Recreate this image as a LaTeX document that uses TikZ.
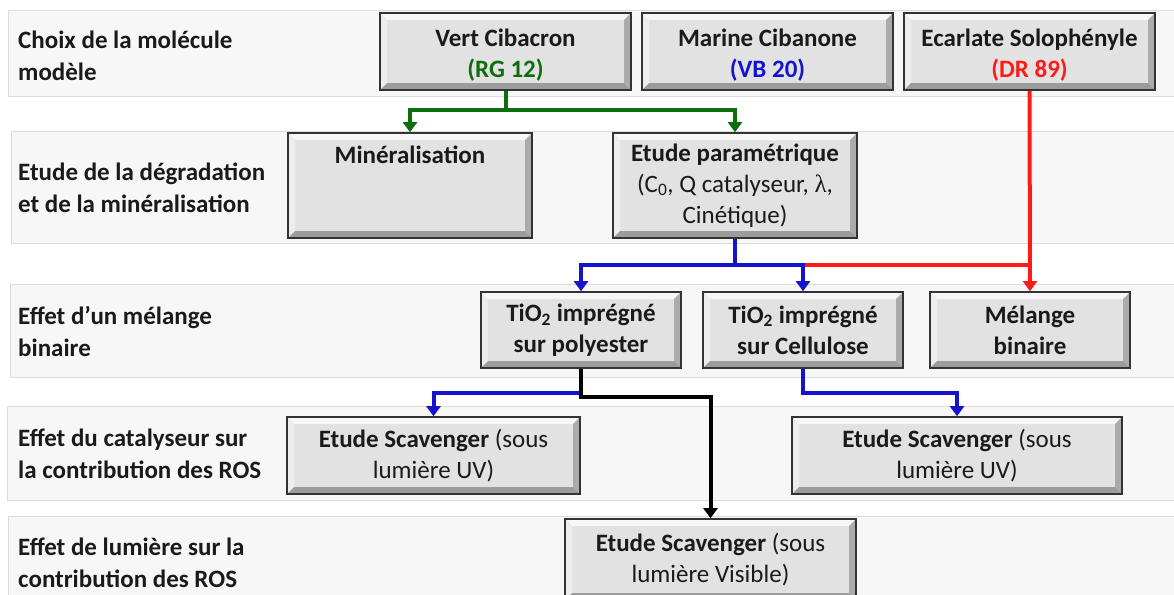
\documentclass[tikz,border=0pt]{standalone}
\usepackage{fontspec}
\setmainfont{Carlito}
\newfontfamily\grkfont{Liberation Serif}
\usetikzlibrary{arrows.meta}
\definecolor{bandfill}{HTML}{F7F7F7}
\definecolor{bandline}{HTML}{DCDCDC}
\definecolor{boxfill}{HTML}{E2E2E2}
\definecolor{boxline}{HTML}{333333}
\definecolor{txt}{HTML}{1A1A1A}
\definecolor{cgreen}{HTML}{0E6E0E}
\definecolor{cblue}{HTML}{1414CC}
\definecolor{cred}{HTML}{FF1A1A}
\definecolor{bvtop}{HTML}{F7F7F7}
\definecolor{bvleft}{HTML}{EDEDED}
\definecolor{bvright}{HTML}{ABABAB}
\definecolor{bvbot}{HTML}{9C9C9C}
\tikzset{
  band/.style={fill=bandfill, draw=bandline, line width=0.8pt},
  lbl/.style={anchor=west, align=left, text=txt, inner sep=0pt,
    font=\fontsize{25}{32}\selectfont\bfseries},
  bevel/.style={path picture={
    \path (path picture bounding box.north west) coordinate (pnw)
          (path picture bounding box.north east) coordinate (pne)
          (path picture bounding box.south west) coordinate (psw)
          (path picture bounding box.south east) coordinate (pse);
    \fill[bvtop] (pnw) -- (pne) -- ([shift={(-7pt,-7pt)}]pne) -- ([shift={(7pt,-7pt)}]pnw) -- cycle;
    \fill[bvleft] (pnw) -- ([shift={(7pt,-7pt)}]pnw) -- ([shift={(7pt,7pt)}]psw) -- (psw) -- cycle;
    \fill[bvright] (pne) -- ([shift={(-7pt,-7pt)}]pne) -- ([shift={(-7pt,7pt)}]pse) -- (pse) -- cycle;
    \fill[bvbot] (psw) -- ([shift={(7pt,7pt)}]psw) -- ([shift={(-7pt,7pt)}]pse) -- (pse) -- cycle;
  }},
  box/.style={draw=boxline, line width=1.6pt, fill=boxfill, bevel, inner sep=0pt,
    align=center, text=txt, font=\fontsize{25}{31}\selectfont},
  conn/.style={line width=4pt},
  tip/.style={-{Triangle[width=14pt,length=10pt]}}
}
\begin{document}
\begin{tikzpicture}[x=1pt,y=-1pt]
\useasboundingbox[fill=white] (0,0) rectangle (1174,594);
% bands
\path[band] (8,10) rectangle (1180,96);
\path[band] (11,131) rectangle (1180,243);
\path[band] (10,284) rectangle (1180,377);
\path[band] (7,406) rectangle (1180,500);
\path[band] (8,516) rectangle (1180,610);
% left labels
\node[lbl] (l1) at (18,56) {Choix de la molécule\\modèle};
\node[lbl] (l2) at (18,188) {Etude de la dégradation\\et de la minéralisation};
\node[lbl] (l3) at (18,331) {Effet d’un mélange\\binaire};
\node[lbl] (l4) at (18,454) {Effet du catalyseur sur\\la contribution des ROS};
\node[lbl] (l5) at (18,563) {Effet de lumière sur la\\contribution des ROS};
% boxes
\node[box, minimum width=251pt, minimum height=77pt] (vert) at (505.5,51.5)
  {\rule{0pt}{24pt}\bfseries Vert Cibacron\\{\bfseries\color{cgreen}(RG 12)}};
\node[box, minimum width=251pt, minimum height=77pt] (marine) at (767.5,51.5)
  {\rule{0pt}{24pt}\bfseries Marine Cibanone\\{\bfseries\color{cblue}(VB 20)}};
\node[box, minimum width=251pt, minimum height=77pt] (eca) at (1029.5,51.5)
  {\rule{0pt}{24pt}\bfseries Ecarlate Solophényle\\{\bfseries\color{cred}(DR 89)}};
\node[box, minimum width=244pt, minimum height=105pt] (mineral) at (410,185.5)
  {\bfseries Minéralisation\\~\\~};
\node[box, minimum width=244pt, minimum height=105pt] (param) at (735,185.5)
  {{\bfseries Etude paramétrique}\\(C\textsubscript{0}, Q catalyseur, {\grkfont λ},\\Cinétique)};
\node[box, minimum width=200pt, minimum height=76pt] (tio2a) at (581,330)
  {\bfseries TiO\textsubscript{2} imprégné\\\bfseries sur polyester};
\node[box, minimum width=200pt, minimum height=76pt] (tio2b) at (803,330)
  {\bfseries TiO\textsubscript{2} imprégné\\\bfseries sur Cellulose};
\node[box, minimum width=200pt, minimum height=76pt] (melange) at (1030,330)
  {\bfseries Mélange\\\bfseries binaire};
\node[box, minimum width=293pt, minimum height=77pt] (scavA) at (433.5,455.5)
  {{\bfseries Etude Scavenger} (sous\\lumière UV)};
\node[box, minimum width=330pt, minimum height=77pt] (scavB) at (957,455.5)
  {{\bfseries Etude Scavenger} (sous\\lumière UV)};
\node[box, minimum width=291pt, minimum height=81pt] (scavVis) at (710.5,559.5)
  {{\bfseries Etude Scavenger} (sous\\lumière Visible)};
% green connectors
\coordinate (gj) at (505.5,110);
\draw[conn,cgreen] (vert.south) -- (gj);
\draw[conn,cgreen,tip] (gj) -| (mineral.north);
\draw[conn,cgreen,tip] (gj) -| (param.north);
% red connectors
\coordinate (rj) at (1030,265);
\draw[conn,cred] (rj) -- (rj -| tio2b.north);
\draw[conn,cred,tip] (eca.south) -- (melange.north);
% blue connectors from parametric study
\coordinate (bj) at (735,265);
\draw[conn,cblue] (param.south) -- (bj);
\draw[conn,cblue,tip] (bj) -| (tio2a.north);
\draw[conn,cblue,tip] (bj) -| (tio2b.north);
% layer 4 connectors
\coordinate (aj) at (581,393);
\draw[conn,cblue,tip] (aj) -| (scavA.north);
\coordinate (kj) at (581,397);
\draw[conn,black,tip] (tio2a.south) -- (kj) -| (scavVis.north);
\coordinate (cj) at (803,393);
\draw[conn,cblue,tip] (tio2b.south) -- (cj) -| (scavB.north);
\end{tikzpicture}
\end{document}
